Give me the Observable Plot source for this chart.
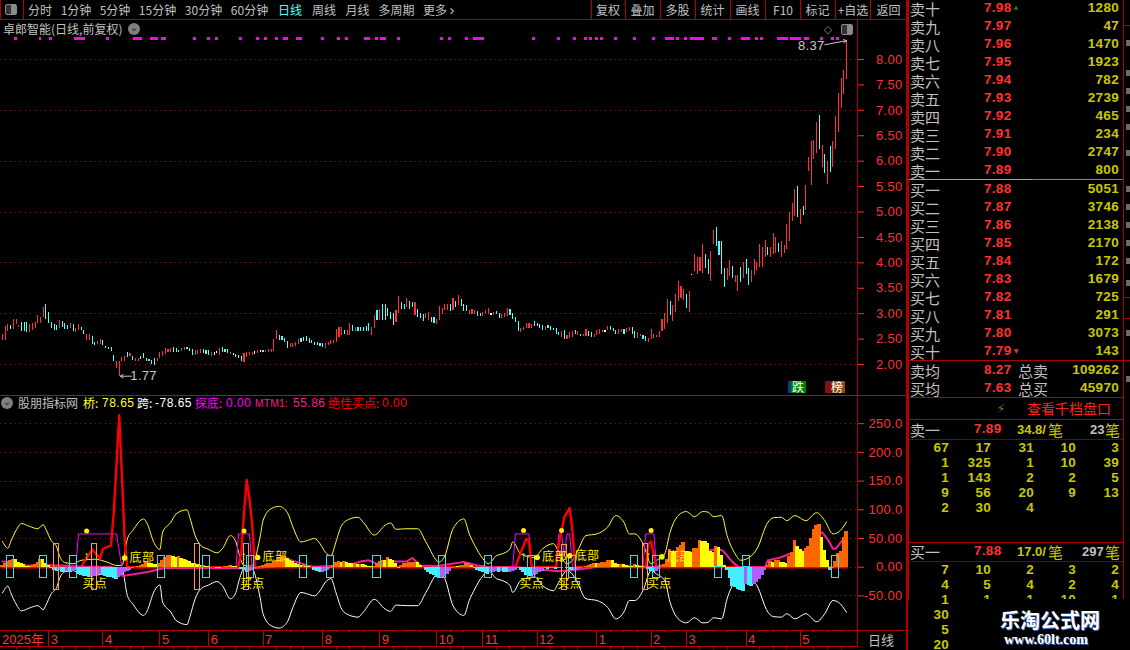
<!DOCTYPE html>
<html lang="zh">
<head>
<meta charset="utf-8">
<script src="https://cdn.jsdelivr.net/npm/d3@7"></script>
<script src="https://cdn.jsdelivr.net/npm/@observablehq/plot@0.6"></script>
<style>
html,body{margin:0;padding:0;background:#000;width:1130px;height:650px;overflow:hidden}
#root{position:relative;width:1130px;height:650px;background:#000;overflow:hidden;font-family:"Noto Sans CJK SC","Liberation Sans",sans-serif}
#root svg{position:absolute;background:transparent}
.t{position:absolute;white-space:nowrap;line-height:1}
.l{position:absolute;background:#b00000}
</style>
</head>
<body>
<div id="root"></div>
<script>
// ---- price pane -------------------------------------------------------
const highs = [
2.60,2.75,2.78,2.77,2.88,2.89,2.77,2.82,2.83,2.83,
2.78,2.80,2.82,2.96,2.93,3.13,3.18,3.03,2.82,2.78,
2.77,2.87,2.85,2.81,2.77,2.80,2.79,2.70,2.78,2.73,
2.67,2.60,2.60,2.55,2.44,2.46,2.49,2.47,2.35,2.34,
2.33,2.18,2.05,2.05,2.13,2.16,2.24,2.22,2.16,2.12,
2.12,2.16,2.21,2.11,2.09,2.08,2.11,2.11,2.23,2.26,
2.31,2.29,2.31,2.33,2.31,2.28,2.31,2.33,2.34,2.31,
2.29,2.28,2.28,2.30,2.29,2.27,2.28,2.24,2.23,2.26,
2.31,2.34,2.29,2.29,2.24,2.21,2.20,2.18,2.16,2.21,
2.23,2.23,2.24,2.26,2.28,2.28,2.28,2.28,2.30,2.29,
2.50,2.67,2.57,2.55,2.52,2.45,2.41,2.41,2.43,2.49,
2.51,2.53,2.55,2.51,2.47,2.44,2.43,2.42,2.41,2.41,
2.44,2.47,2.48,2.68,2.72,2.72,2.67,2.67,2.81,2.77,
2.73,2.73,2.73,2.73,2.74,2.81,2.73,2.96,3.06,3.09,
3.18,3.18,3.10,3.03,3.00,3.06,3.33,3.22,3.19,3.29,
3.24,3.22,3.22,3.09,3.01,2.99,3.01,3.03,2.93,2.93,
2.88,3.14,3.11,3.19,3.18,3.18,3.29,3.23,3.36,3.28,
3.19,3.16,3.06,3.08,3.06,3.04,3.01,3.03,3.06,3.10,
3.01,3.03,3.04,3.01,2.98,3.01,3.10,3.09,3.01,2.92,
2.85,2.70,2.73,2.81,2.80,2.79,2.85,2.80,2.79,2.76,
2.75,2.77,2.75,2.71,2.70,2.63,2.64,2.66,2.57,2.62,
2.64,2.66,2.64,2.60,2.59,2.69,2.64,2.62,2.60,2.67,
2.68,2.67,2.67,2.75,2.75,2.71,2.67,2.68,2.68,2.68,
2.71,2.73,2.73,2.64,2.62,2.60,2.58,2.55,2.52,2.69,
2.60,2.58,2.64,2.88,3.00,3.28,3.24,3.16,3.37,3.63,
3.53,3.47,3.38,3.44,3.77,4.16,4.10,4.10,4.36,4.16,
4.06,4.22,4.64,4.69,4.41,4.42,3.88,3.88,4.05,3.93,
3.75,3.75,3.90,4.01,4.06,3.88,3.84,4.06,4.01,4.36,
4.31,4.44,4.31,4.30,4.57,4.50,4.39,4.41,4.35,4.75,
5.00,5.16,5.44,5.50,5.05,5.11,5.52,6.08,6.39,6.41,
6.77,6.90,6.31,6.14,5.99,6.28,6.39,6.87,7.34,7.62,7.78,8.37];
const lows = [
2.48,2.48,2.64,2.68,2.68,2.79,2.72,2.64,2.64,2.62,
2.62,2.67,2.70,2.80,2.80,2.93,2.88,2.80,2.70,2.67,
2.67,2.70,2.73,2.69,2.68,2.70,2.64,2.62,2.67,2.67,
2.60,2.48,2.48,2.39,2.37,2.39,2.39,2.37,2.31,2.30,
2.26,2.06,1.93,1.77,2.05,2.05,2.13,2.16,2.08,2.06,
2.06,2.09,2.11,2.05,2.06,2.00,1.98,2.05,2.11,2.16,
2.20,2.23,2.24,2.24,2.24,2.24,2.26,2.28,2.29,2.26,
2.18,2.18,2.20,2.21,2.21,2.20,2.18,2.16,2.18,2.21,
2.18,2.23,2.24,2.22,2.20,2.17,2.14,2.11,2.05,2.03,
2.14,2.17,2.18,2.20,2.21,2.23,2.23,2.23,2.24,2.24,
2.26,2.49,2.47,2.47,2.44,2.31,2.34,2.33,2.36,2.39,
2.43,2.45,2.45,2.42,2.42,2.37,2.37,2.36,2.33,2.31,
2.37,2.39,2.41,2.44,2.54,2.57,2.60,2.58,2.57,2.64,
2.65,2.65,2.64,2.65,2.64,2.64,2.57,2.70,2.87,2.87,
2.87,2.87,2.95,2.88,2.76,2.83,3.00,3.09,3.09,3.13,
3.09,3.12,2.96,2.93,2.90,2.85,2.90,2.87,2.82,2.80,
2.79,2.87,2.98,3.06,3.06,3.04,3.06,3.13,3.16,3.14,
3.04,3.04,2.98,2.98,2.98,2.94,2.94,2.94,2.98,2.98,
2.96,2.96,2.98,2.91,2.91,2.93,2.94,2.96,2.88,2.83,
2.65,2.63,2.66,2.70,2.70,2.71,2.75,2.75,2.70,2.67,
2.67,2.71,2.67,2.67,2.60,2.58,2.54,2.50,2.49,2.52,
2.54,2.60,2.57,2.55,2.55,2.56,2.55,2.54,2.54,2.58,
2.60,2.62,2.62,2.66,2.66,2.64,2.59,2.60,2.62,2.60,
2.62,2.65,2.60,2.52,2.52,2.55,2.49,2.45,2.44,2.49,
2.52,2.54,2.54,2.64,2.69,2.80,2.96,2.85,3.03,3.23,
3.29,3.26,3.10,3.02,3.76,3.83,3.78,3.82,3.80,3.89,
3.77,3.63,4.36,4.32,4.14,3.78,3.52,3.65,3.73,3.70,
3.62,3.44,3.62,3.70,3.78,3.55,3.62,3.75,3.85,3.91,
3.91,4.10,4.14,4.11,4.16,4.18,4.21,4.10,4.18,4.26,
4.41,4.82,4.92,4.90,4.75,4.93,5.03,5.80,5.52,6.03,
6.16,6.23,5.88,5.76,5.54,5.78,5.88,6.23,6.57,7.04,7.31,7.60];
// R rising, C falling, W flat
const trends = (
"RRRCRRRCCC"+"RRRRRRCCCC"+"CRCCCRCRRC"+"CRRCCRRCCC"+"CCRRRRCRCR"+
"RCCCCCCRRR"+"RRRCCCRRCC"+"CRRRCCCRWW"+"RCCCRWCCCR"+"RRRWRWCRRR"+
"RRCCCCRRRR"+"CCCCCCCCCR"+"RRRRRRCRRC"+"RCCCCCRRCR"+"CCCCCRRCCR"+
"CCRCCCRRCC"+"RRRRRCRCRC"+"CCRRRCCRRR"+"WRCCRRRCCC"+"CRRRRRCCCC"+
"RCCCCCRCRR"+"RCRCRRCCRR"+"RRWRCCCRRC"+"RRCCRRCCRR"+"RRRRRRCRRR"+
"RRCRWRRRRC"+"CRRCCCCRRC"+"RRCRCCRRRR"+"RRCRRRCRRR"+"RRRCRCRRRR"+
"RCRCRCRRRRRR").split("");
const signalBars = [5,14,18,27,28,29,30,39,49,50,51,55,56,57,59,60,71,76,79,88,94,97,101,104,105,109,110,118,124,127,134,135,138,140,141,146,162,165,171,174,175,176,177,196,205,211,215,217,219,221,226,233,240,245,246,247,249,252,254,255,256,257,258,262,263,268,273,274,275,278,280,286,287,288,289,291,292,293,294,296,297,302,306,308];
const priceTicks = [2,2.5,3,3.5,4,4.5,5,5.5,6,6.5,7,7.5,8];
const priceGrid = [2,3,4,5,6,7,8];

// ---- indicator pane ---------------------------------------------------
const bridgeBars = [0,2,3,5,7,10,13,15,16,18,20,21,23,26,29,34,39,42,44,46,48,52,53,56,58,59,62,64,68,69,71,73,76,79,81,84,86,87,89,91,92,95,96,99,102,105,107,110,112,115,117,119,121,123,125,128,131,133,137,141,143,145,149,153,156,161,163,166,170,172,174,177,179,182,184,187,188,191,196,199,203,205,208,210,212,215,219,223,226,229,231,233,236,239,241,244,246,249,252,255,258,260,262,265,267,270,272,276,278,282,284,287,289,292,296,300,303,306,308,311];
const bridgeValues = [45,33,44,64,76,71,67,74,66,46,35,20,8,6,12,14,8,3,3,49,64,84,79,41,31,61,78,93,100,87,55,38,31,25,32,55,44,26,3,2,3,55,81,102,106,95,70,44,46,50,41,26,20,46,73,84,87,78,56,73,77,66,67,67,44,9,20,67,84,58,38,15,6,20,23,32,44,23,17,32,41,26,6,12,29,55,58,70,90,78,58,58,41,6,12,23,61,90,97,88,97,96,88,90,55,23,12,20,32,78,86,87,81,90,81,95,81,58,61,78.65];
const spanValues = [-45,-33,-44,-64,-76,-71,-67,-74,-66,-46,-35,-20,-8,-6,-12,-14,-8,-3,-3,-49,-64,-84,-79,-41,-31,-61,-78,-93,-100,-87,-55,-38,-31,-25,-32,-55,-44,-26,-3,-2,-3,-55,-81,-102,-106,-95,-70,-44,-46,-50,-41,-26,-20,-46,-73,-84,-87,-78,-56,-73,-77,-66,-67,-67,-44,-9,-20,-67,-84,-58,-38,-15,-6,-20,-23,-32,-44,-23,-17,-32,-41,-26,-6,-12,-29,-55,-58,-70,-90,-78,-58,-58,-41,-6,-12,-23,-61,-90,-97,-88,-97,-96,-88,-90,-55,-23,-12,-20,-32,-78,-86,-87,-81,-90,-81,-95,-81,-58,-61,-78.65];
const histValues = [
3,6,9,11,14,13,9,6,4,2,
1,3,5,8,14,13,7,3,-2,-5,
-7,-6,-9,-10,-7,-10,-8,-6,-13,-15,
-16,-17,-18,-18,-16,-14,-12,-15,-17,-17.5,
-18,-19,-22,-18,-14,-10,-7,-5,-3,-1,
2,3,5,8,7,6,5,4,7,12,
17,20,20,18,17,18,16,14,12,10,
7,6,4,3,3,2,1,-1,-1,-2,
-3,-1,1,2,3,2,1,-1,-4,-6,
-9,-7,-5,-3,-1,2,3,5,6,7,
8,11,17,18,19,15,12,10,7,5,
3,4,2,1,-1,-6,-8,-10,-10,-8,
-6,-2,3,8,10,9,10,8,7,6,
6,5,5,4,3,2,1,2,6,10,
12,11,17,14,12,7,-2,3,6,7,
8,9,9,8,3,-1,-6,-10,-13,-15,
-18,-20,-20,-16,-12,-7,-2,2,1,3,
3,6,6,3,-2,-5,-7,-9,-10,-12,
-10,-9,-7,-9,-8,-9,-9.5,-9,-8,-6,
-3,-5,-10,-14,-16,-17,-15,-13,-10,-7,
-3,-4,-3,-3,-4,-3,-2,-1,-3,-5,
-6,-5,-4,-3,-1,2,3,5,7,6,
7,8,9,11,12,11,7,5,5,4,
3,2,1,5,3,2,1,-1,-4,-8,
-10,-8,-4,2,5,14,30,28,27,35,
38,43,27,26,25,32,33,46,45,44,
41,27,26,36,34,20,3,-6,-20,-33,
-35,-38,-40,-42,-31,-32,-33,-31,-27,-22,
-14,-6,3,10,8,12,12,9,8,7,
18,26,46,36,30,28,32,36,50,66,
72,75,52,29,12,-6,-2,10,24,28,52,62];
const mtmBars = [0,3,5,8,11,13,15,18,22,25,30,40,44,46,50,54,58,60,90,100,105,107,110,112,115,128,132,135,137,139,142,145,149,151,154,160,170,175,180,190,200,205,212,218,225,240,250,261,265,266,269,271,281,282,286,290,296,302,304,306,307,309,311];
const mtmValues = [10,9,8,3,3,5,6,3,3,2,1,1,-15,-14,-11,-8,-3,-1,-2,1,15,11,7,3,1,4,10,12,8,4,12,10,10,16,3,2,9,3,0,0,-5,-7,-4,0,2,1,8,30,30,26,9,1,0,12,16,23,28,61,49,32,32,44,55.86];
const bestBars = [0,29,30,32,33,36,37,40,41,42,43,44,45,46,86,87,88,89,90,91,92,93,189,191,193,194,195,204,205,207,209,210,211,237,238,239,240,241,311];
const bestValues = [0,0,9,23,31,15,32,38,96,177,265,160,49,0,0,3,26,96,152,119,75,0,0,26,49,46,1,0,40,87,103,64,1,0,40,45,20,0,0];
const probeBars = [27,28,42,44,null,86,87,91,92,null,188,189,194,195,null,204,205,206,207,208,209,210,null,236,237,240,241];
const probeValues = [0,58,58,0,null,0,58,58,0,null,0,58,58,0,null,0,58,58,20,58,58,0,null,0,58,58,0];
const topDotBars = [31,89,192,206,239];
const topDotValues = [63,63,64,64,64];
const bottomBars = [45,94,197,209,243];
const bottomValues = [16,17,17,20,18];
const buyBars = [34,92,195,209,242];
const buyValues = [-29,-29,-30,-30,-30];
const arrowBars = [31,89,192,206,238];
const cyanBars = [3,15,26,58.5,75,91.4,111,121,138,162,179,195,210,233,241,264,274,307];
const cyanTops = [20,20,20,20,20,20,20,20,20,20,20,20,20,20,20,0,20,20];
const cyanBottoms = [-19,-19,-19,-19,-19,-19,-19,-19,-19,-19,-19,-19,-19,-19,-19,-19,0,-19];
const orangeBars = [20,34,72,90,207,237];
const orangeTops = [40,40,40,40,38,40];
const orangeBottoms = [-40,-40,-40,-40,-40,-40];
const indicatorTicks = [-50,0,50,100,150,200,250];

// ---- date axis --------------------------------------------------------
const monthBars = [17,37,58,76,96,118,139,160,177,197,219,239,252,274,294];
const monthLabels = ["3","4","5","6","7","8","9","10","11","12","1","2","3","4","5"];
const weekBars = [5,10,22,27,32,42,47,52,63,68,71,81,86,91,101,106,111,123,128,133,144,149,154,165,170,182,187,192,202,207,212,224,229,234,244,257,262,267,279,284,289,299,304,309];

// ---- order book -------------------------------------------------------
const askLabels = ["卖十","卖九","卖八","卖七","卖六","卖五","卖四","卖三","卖二","卖一"];
const askPrices = ["7.98","7.97","7.96","7.95","7.94","7.93","7.92","7.91","7.90","7.89"];
const askVolumes = [1280,47,1470,1923,782,2739,465,234,2747,800];
const bidLabels = ["买一","买二","买三","买四","买五","买六","买七","买八","买九","买十"];
const bidPrices = ["7.88","7.87","7.86","7.85","7.84","7.83","7.82","7.81","7.80","7.79"];
const bidVolumes = [5051,3746,2138,2170,172,1679,725,291,3073,143];
const askQueue = [[67,17,31,10,3],[1,325,1,10,39],[1,143,2,2,5],[9,56,20,9,13],[2,30,4]];
const bidQueue = [[7,10,2,3,2],[4,5,4,2,4],[1,1,1,10,1],[30],[5],[20]];
const toolbarLeft = [["分时",40],["1分钟",76],["5分钟",115],["15分钟",157.5],["30分钟",203.5],["60分钟",249.5],["日线",290],["周线",324],["月线",357.5],["多周期",396.5],["更多",435]];
const toolbarRight = [["复权",608],["叠加",642.5],["多股",677.5],["统计",712.5],["画线",747.5],["F10",783],["标记",817.5],["+自选",853],["返回",888.5]];

// =======================================================================
const RED="#ff3232",CYAN="#54ffff",GRID="#8c1414",GRAY="#c0c0c0",VOL="#c8c800";
const LAT='"Liberation Sans","Noto Sans CJK SC",sans-serif';
const root=document.getElementById("root");
const xScale={domain:[0,311],range:[2,846],axis:null};

const bars=highs.map((h,i)=>({i,h,l:lows[i],d:trends[i]}));
const trendColor={R:RED,C:CYAN,W:"#ffffff"};

const pricePlot=Plot.plot({
  width:907,height:375,marginLeft:0,marginRight:50,marginTop:0,marginBottom:0,
  x:xScale,
  y:{domain:[2,8],range:[344,39]},
  style:{position:"absolute",left:"0px",top:"20px",fontFamily:LAT,fontSize:"13px",letterSpacing:"0.3px"},
  marks:[
    Plot.ruleY(priceGrid,{stroke:GRID,strokeDasharray:"1 4",strokeWidth:1,shapeRendering:"crispEdges"}),
    Plot.axisY(priceTicks,{anchor:"right",color:RED,tickSize:6,tickPadding:39,textAnchor:"end",tickFormat:d=>d.toFixed(2),label:null,fontVariant:"normal"}),
    Plot.ruleX(bars,{x:"i",y1:"l",y2:"h",stroke:d=>trendColor[d.d],strokeWidth:1.1,shapeRendering:"crispEdges"}),
    Plot.rect(signalBars,{x1:d=>d-0.55,x2:d=>d+0.55,y1:8.38,y2:8.44,fill:"#ff00ff",shapeRendering:"crispEdges"}),
    Plot.arrow([{a:303,b:8.29,c:311,d:8.37}],{x1:"a",y1:"b",x2:"c",y2:"d",stroke:"#c8c8c8",strokeWidth:1,bend:0,headLength:5,inset:0}),
    Plot.text([{x:298,y:8.27,t:"8.37"}],{x:"x",y:"y",text:"t",fill:"#c8c8c8",fontSize:13}),
    Plot.arrow([{a:47.5,c:43.4,b:1.77}],{x1:"a",y1:"b",x2:"c",y2:"b",stroke:"#c8c8c8",strokeWidth:1,bend:0,headLength:5,inset:0}),
    Plot.text([{x:52,y:1.77,t:"1.77"}],{x:"x",y:"y",text:"t",fill:"#c8c8c8",fontSize:13})
  ]
});
root.appendChild(pricePlot);

const bridge=bridgeBars.map((i,k)=>({i,v:bridgeValues[k],s:spanValues[k]}));
const hist=histValues.map((v,i)=>{
  const p=i?histValues[i-1]:0;
  return {i,v,c:v>=0?(v>=p?"#ff6600":"#ffff00"):(v<p?"#44f0ff":"#b45cff")};
});
const mtm=mtmBars.map((i,k)=>({i,v:mtmValues[k]}));
const best=bestBars.map((i,k)=>({i,v:bestValues[k]}));
const probe=probeBars.map((i,k)=>({i:i===null?NaN:i,v:probeValues[k]===null?NaN:probeValues[k]}));
const zip=(a,b)=>a.map((i,k)=>({i,v:b[k]}));
const cjk='"Noto Sans CJK SC",sans-serif';
const indFormat=d=>Math.abs(d)>=100?d.toFixed(1):d.toFixed(2);

const indicatorPlot=Plot.plot({
  width:907,height:234,marginLeft:0,marginRight:50,marginTop:0,marginBottom:0,
  x:xScale,
  y:{domain:[-50,250],range:[199.4,27.2]},
  style:{position:"absolute",left:"0px",top:"396px",fontFamily:LAT,fontSize:"13px",letterSpacing:"0.3px"},
  marks:[
    Plot.ruleY(indicatorTicks,{stroke:GRID,strokeDasharray:"1 4",strokeWidth:1,shapeRendering:"crispEdges"}),
    Plot.axisY(indicatorTicks,{anchor:"right",color:RED,tickSize:6,tickPadding:39,textAnchor:"end",tickFormat:indFormat,label:null,fontVariant:"normal"}),
    Plot.line(bridge,{x:"i",y:"v",stroke:"#ffff33",strokeWidth:1,curve:"monotone-x"}),
    Plot.line(bridge,{x:"i",y:"s",stroke:"#ffffff",strokeWidth:1,curve:"monotone-x"}),
    Plot.line(probe,{x:"i",y:"v",stroke:"#ff00ff",strokeWidth:1}),
    Plot.line(best,{x:"i",y:"v",stroke:"#ff0000",strokeWidth:2.4}),
    Plot.line(mtm,{x:"i",y:"v",stroke:"#f0208a",strokeWidth:2}),
    Plot.rect(hist,{x1:d=>d.i-0.62,x2:d=>d.i+0.62,y1:0,y2:"v",fill:"c",shapeRendering:"crispEdges"}),
    Plot.rect(cyanBars,{x1:d=>d-1.3,x2:d=>d+1.3,y1:(d,k)=>cyanBottoms[k],y2:(d,k)=>cyanTops[k],fill:"none",stroke:"#22e8ee",strokeWidth:1,shapeRendering:"crispEdges"}),
    Plot.rect(orangeBars,{x1:d=>d-0.9,x2:d=>d+0.9,y1:(d,k)=>orangeBottoms[k],y2:(d,k)=>orangeTops[k],fill:"none",stroke:"#ff9a3c",strokeWidth:1,shapeRendering:"crispEdges"}),
    Plot.dot(zip(topDotBars,topDotValues),{x:"i",y:"v",r:2.5,fill:"#ffee00"}),
    Plot.dot(zip(bottomBars,bottomValues),{x:"i",y:"v",r:2.8,fill:"#ffee00"}),
    Plot.text(arrowBars,{x:d=>d,y:20,text:()=>"↑",fill:"#ffee00",fontSize:13,fontFamily:LAT}),
    Plot.text(zip(bottomBars,bottomValues),{x:"i",y:"v",text:()=>"底部",dx:5,textAnchor:"start",fill:"#ffee00",fontSize:12,fontFamily:cjk}),
    Plot.text(zip(buyBars,buyValues),{x:"i",y:"v",text:()=>"买点",fill:"#ffee00",fontSize:12,fontFamily:cjk})
  ]
});
root.appendChild(indicatorPlot);

const axisPlot=Plot.plot({
  width:907,height:20,marginLeft:0,marginRight:50,marginTop:0,marginBottom:0,
  x:xScale,
  y:{domain:[0,20],range:[0,20],axis:null},
  style:{position:"absolute",left:"0px",top:"630px",fontFamily:LAT,fontSize:"13px"},
  marks:[
    Plot.ruleX(monthBars,{y1:0,y2:16,stroke:"#c00000",strokeWidth:1,shapeRendering:"crispEdges"}),
    Plot.ruleX(weekBars,{y1:0,y2:2,stroke:"#c00000",strokeWidth:1,shapeRendering:"crispEdges"}),
    Plot.ruleX(weekBars,{y1:16,y2:19,stroke:"#c00000",strokeWidth:1,shapeRendering:"crispEdges"}),
    Plot.ruleY([16],{stroke:"#c00000",strokeWidth:1,shapeRendering:"crispEdges"}),
    Plot.text(monthLabels,{x:(d,k)=>monthBars[k],y:9,text:d=>d,dx:2,textAnchor:"start",fill:RED,fontSize:13})
  ]
});
root.appendChild(axisPlot);

// ---- chrome and text panels (real text in HTML) -----------------------
function put(text,x,y,o={}){
  const e=document.createElement("div");e.className="t";e.textContent=text;
  const tx=o.anchor==="end"?"-100%":o.anchor==="middle"?"-50%":"0";
  Object.assign(e.style,{left:x+"px",top:y+"px",transform:`translate(${tx},-50%)`,color:o.color||GRAY,fontSize:(o.size||13)+"px",fontFamily:o.font||cjk,fontWeight:o.weight||"normal",letterSpacing:o.ls||"0"});
  if(o.shadow)e.style.textShadow=o.shadow;
  if(o.bg){e.style.background=o.bg;e.style.padding=o.pad||"1px 2px"}
  root.appendChild(e);return e;
}
function line(x,y,w,h,c){
  const e=document.createElement("div");e.className="l";
  Object.assign(e.style,{left:x+"px",top:y+"px",width:w+"px",height:h+"px",background:c||"#b00000"});
  root.appendChild(e);return e;
}
function dropIcon(x,y){
  const e=put("⌄",x,y,{anchor:"middle",size:10,color:"#222",font:'"DejaVu Sans"'});
  Object.assign(e.style,{width:"12px",height:"12px",lineHeight:"9px",textAlign:"center",borderRadius:"6px",background:"#7f7f7f"});
}
function paneIcon(x,y){
  const e=document.createElement("div");
  Object.assign(e.style,{position:"absolute",left:x+"px",top:y+"px",width:"10px",height:"9px",border:"1px solid #8a8a8a",borderRadius:"2px",background:"linear-gradient(90deg,#333 50%,#8a8a8a 50%)"});
  root.appendChild(e);
}
// frame lines
line(0,19,907,1);line(0,0,1,19);line(23,0,1,19);
line(857,20,1,627);line(0,395,907,1,"#d00000");line(0,630,907,1);line(906,0,2,650);
[591,625,660,695,730,765,800,835,870].forEach(x=>line(x,0,1,19));
// toolbar
paneIcon(5,4);
toolbarLeft.forEach(([s,c])=>put(s,c,10,{anchor:"middle",size:12,color:s==="日线"?"#54ffff":GRAY}));
put("›",452,9,{anchor:"middle",size:15,font:LAT});
toolbarRight.forEach(([s,c])=>put(s,c,10,{anchor:"middle",size:12}));
// price header
put("卓郎智能(日线,前复权)",3,29,{size:12});
dropIcon(134,29);
put("◇",828,29,{anchor:"middle",size:11,color:"#8a8a8a",font:'"DejaVu Sans"'});
paneIcon(841,24);
// badges
put("跌",797,387,{anchor:"middle",size:12,color:"#fff",bg:"linear-gradient(90deg,#123a8a 18%,#008000 18%)",pad:"0 2px 0 4px"});
put("榜",835,387,{anchor:"middle",size:12,color:"#fff",bg:"linear-gradient(90deg,#8a1010 35%,#8a4a10 35%)",pad:"0 2px 0 6px"});
// indicator legend
dropIcon(7,403);
put("股朋指标网",18,403,{size:12});
put("桥:",83,403,{size:12,color:"#ffff33"});
put("78.65",102,403,{size:12,color:"#ffff33",font:LAT,ls:".5px"});
put("跨:",137,403,{size:12,color:"#fff"});
put("-78.65",155,403,{size:12,color:"#fff",font:LAT,ls:".5px"});
put("探底:",195,403,{size:12,color:"#ff00ff"});
put("0.00",226,403,{size:12,color:"#ff00ff",font:LAT,ls:".5px"});
put("MTM1:",255,403,{size:10.5,color:"#f0208a",font:LAT});
put("55.86",293,403,{size:12,color:"#f0208a",font:LAT,ls:".5px"});
put("绝佳买点:",328,403,{size:12,color:"#ff0000"});
put("0.00",382,403,{size:12,color:"#ff0000",font:LAT,ls:".5px"});
// date axis
put("2025年",2,639,{size:13,color:RED,font:LAT});
put("日线",881,639,{anchor:"middle",size:13});
// order book
const lbl={size:15},pr={size:13.5,color:RED,font:LAT,weight:"bold",ls:".3px"},vo={anchor:"end",size:13.5,color:VOL,font:LAT,weight:"bold",ls:".3px"};
askLabels.forEach((s,k)=>{const y=8+18*k;put(s,910,y,lbl);put(askPrices[k],984,y,pr);put(String(askVolumes[k]),1119,y,vo)});
bidLabels.forEach((s,k)=>{const y=189+18*k;put(s,910,y,lbl);put(bidPrices[k],984,y,pr);put(String(bidVolumes[k]),1119,y,vo)});
put("▲",1016,7,{anchor:"middle",size:6,color:"#0a8a0a",font:'"DejaVu Sans"'});
put("▼",1016,351,{anchor:"middle",size:6,color:RED,font:'"DejaVu Sans"'});
line(908,179,124,1,"#d09a50");line(1032,179,91,1,"#5a8ac0");
line(908,360,215,1);line(908,397,215,1);line(908,419,215,1);line(908,542,215,1);
line(908,0,1,600);line(1123,0,1,600);
// cropped neighbour panel at the window's right edge
[25,297,318,360].forEach(y=>line(1124,y,6,1));
[40,70,88,106,124,150,186,204,222,240,258,280,330,376].forEach(y=>line(1126,y,4,6,"#6a6a6a"));
put("卖均",910,370,lbl);put("8.27",984,370,pr);put("总卖",1018,370,lbl);put("109262",1119,370,vo);
put("买均",910,388,lbl);put("7.63",984,388,pr);put("总买",1018,388,lbl);put("45970",1119,388,vo);
put("⚡",1001,408,{anchor:"middle",size:13,color:"#7a6a20",font:'"DejaVu Sans"'});
put("查看千档盘口",1027,408,{size:14,color:"#ff2020"});
[439,561].forEach(y=>{const e=line(908,y,215,1,"transparent");e.style.borderTop="1px dotted #b00000";e.style.height="0"});
const qCols=[949,991,1034,1076,1119];
const qRow=(row,y)=>row.forEach((v,k)=>put(String(v),qCols[k],y,vo));
put("卖一",910,429,lbl);put("7.89",974,429,pr);put("34.8/",1017,429,{size:13,color:VOL,font:LAT,weight:"bold"});put("笔",1048,429,{size:15,color:VOL});
put("23",1090,429,{size:13,color:GRAY,font:LAT,weight:"bold"});put("笔",1105,429,{size:15,color:VOL});
askQueue.forEach((r,k)=>qRow(r,448+15*k));
put("买一",910,551,lbl);put("7.88",974,551,pr);put("17.0/",1017,551,{size:13,color:VOL,font:LAT,weight:"bold"});put("笔",1048,551,{size:15,color:VOL});
put("297",1082,551,{size:13,color:GRAY,font:LAT,weight:"bold"});put("笔",1105,551,{size:15,color:VOL});
bidQueue.forEach((r,k)=>qRow(r,570+15*k));
// watermark
const mask=document.createElement("div");
Object.assign(mask.style,{position:"absolute",left:"955px",top:"599px",width:"175px",height:"51px",background:"#000"});
root.appendChild(mask);
put("乐淘公式网",1050,620,{anchor:"middle",size:20,color:"#fff",weight:"bold",shadow:"1px 1px 0 #3a6ad0"});
put("www.60lt.com",1046,640,{anchor:"middle",size:14,color:"#fff",weight:"bold",font:'"Liberation Serif",serif',shadow:"1px 1px 0 #3a6ad0"});
</script>
</body>
</html>
